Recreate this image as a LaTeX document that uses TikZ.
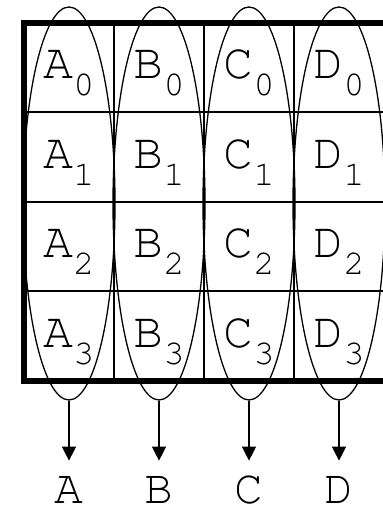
\documentclass[tikz,border=0pt]{standalone}
\usepackage{fontspec}
\usetikzlibrary{positioning,arrows.meta,shapes.geometric}
\newcommand{\cour}{\fontencoding{T1}\fontfamily{pcr}\selectfont}
\tikzset{
  cellt/.style={font=\cour\fontsize{50}{50}\selectfont, inner sep=0pt, anchor=base},
  outl/.style={font=\cour\fontsize{48}{48}\selectfont, inner sep=0pt,
               text height=27.4pt, text depth=0pt},
  colring/.style={draw, ellipse, line width=1.3pt, minimum width=92pt,
                  minimum height=393pt, inner sep=0pt},
  gridl/.style={line width=2pt},
  frame/.style={line width=6pt},
  ar/.style={-{Triangle[length=14pt,width=14pt]}, line width=1.3pt},
}
\newcommand{\sub}[1]{\raisebox{-17pt}{\fontsize{35}{35}\selectfont #1}}

\begin{document}
\begin{tikzpicture}[x=1pt,y=1pt]
\useasboundingbox (0,0) rectangle (383,507);
\begin{scope}
\clip (0,0) rectangle (383,507);
% inner grid
\foreach \x in {114,204,294}
  \draw[gridl] (\x,484) -- (\x,126);
\foreach \y in {394.5,305,215.5}
  \draw[gridl] (24,\y) -- (390,\y);
% outer frame, open on the right
\draw[frame] (390,484) -- (24,484) -- (24,126) -- (390,126);

\foreach \c [count=\i from 0] in {A,B,C,D} {
  \foreach \r in {0,...,3}
    \node[cellt] (\c\r) at (69+90*\i, 428-89.5*\r) {\c\sub{\r}};
  \node[colring] (ring\c) at (69+90*\i, 303.5) {};
  \node[outl, below=75pt of ring\c.south] (out\c) {\c};
  \draw[ar, shorten >=15pt] (ring\c.south) -- (out\c.north);
}
\end{scope}
\end{tikzpicture}
\end{document}
